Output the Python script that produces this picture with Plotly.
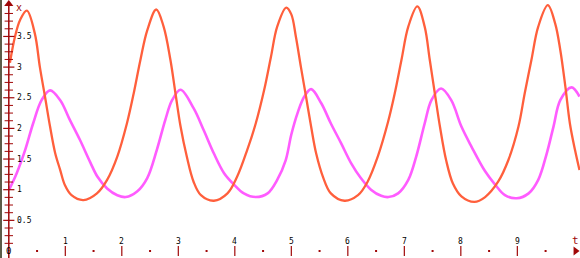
import plotly.graph_objects as go

# ---- data ----
prey_t = [0.02, 0.11, 0.20, 0.32, 0.46, 0.55, 0.64, 0.73, 0.82, 0.91, 0.99, 1.11, 1.32, 1.56, 1.74, 1.92,
          2.09, 2.21, 2.33, 2.45, 2.61, 2.74, 2.86, 2.95, 3.04, 3.15, 3.27, 3.40, 3.63, 3.87, 4.04, 4.22,
          4.37, 4.52, 4.64, 4.75, 4.91, 5.00, 5.08, 5.17, 5.26, 5.35, 5.44, 5.56, 5.70, 5.94, 6.18, 6.35,
          6.53, 6.71, 6.83, 6.95, 7.07, 7.23, 7.36, 7.45, 7.54, 7.63, 7.74, 7.86, 8.01, 8.24, 8.43, 8.66,
          8.84, 9.02, 9.13, 9.25, 9.37, 9.54, 9.67, 9.76, 9.85, 9.93, 10.02, 10.10]
prey_v = [3.07, 3.50, 3.77, 3.92, 3.55, 3.00, 2.52, 2.03, 1.60, 1.32, 1.08, 0.91, 0.83, 0.94, 1.16, 1.54,
          2.08, 2.57, 3.12, 3.60, 3.94, 3.66, 3.12, 2.57, 2.03, 1.54, 1.13, 0.91, 0.82, 0.94, 1.21, 1.65,
          2.08, 2.63, 3.17, 3.66, 3.97, 3.86, 3.50, 3.00, 2.52, 2.03, 1.59, 1.21, 0.94, 0.82, 0.91, 1.13,
          1.54, 2.10, 2.57, 3.12, 3.66, 3.99, 3.66, 3.12, 2.57, 2.03, 1.48, 1.10, 0.89, 0.80, 0.88, 1.13,
          1.48, 2.03, 2.57, 3.12, 3.66, 4.01, 3.71, 3.28, 2.68, 2.08, 1.65, 1.32]

pred_t = [0.01, 0.14, 0.29, 0.43, 0.58, 0.73, 0.91, 1.08, 1.26, 1.44, 1.57, 1.74, 1.92, 2.07, 2.27, 2.45,
          2.62, 2.77, 2.89, 3.04, 3.27, 3.45, 3.63, 3.81, 3.99, 4.16, 4.37, 4.58, 4.75, 4.90, 5.00, 5.11,
          5.23, 5.35, 5.53, 5.70, 5.88, 6.06, 6.23, 6.41, 6.59, 6.72, 6.89, 7.07, 7.21, 7.36, 7.48, 7.65,
          7.83, 8.01, 8.19, 8.43, 8.61, 8.78, 8.99, 9.20, 9.37, 9.52, 9.64, 9.76, 9.96, 10.10]
pred_v = [1.01, 1.27, 1.65, 2.08, 2.46, 2.62, 2.46, 2.14, 1.81, 1.45, 1.21, 1.02, 0.91, 0.88, 0.97, 1.19,
          1.65, 2.14, 2.46, 2.63, 2.33, 1.97, 1.59, 1.27, 1.08, 0.94, 0.88, 0.94, 1.16, 1.48, 1.90, 2.25,
          2.52, 2.64, 2.41, 2.08, 1.76, 1.43, 1.19, 1.00, 0.90, 0.88, 0.94, 1.16, 1.54, 2.08, 2.46, 2.65,
          2.46, 2.03, 1.70, 1.30, 1.08, 0.91, 0.86, 0.94, 1.16, 1.59, 2.03, 2.46, 2.67, 2.52]

x_major = [1, 2, 3, 4, 5, 6, 7, 8, 9]
x_labels = ["1", "2", "3", "4", "5", "6", "7", "8", "9"]
x_minor = [0.5, 1.5, 2.5, 3.5, 4.5, 5.5, 6.5, 7.5, 8.5, 9.5]
y_major = [0.5, 1, 1.5, 2, 2.5, 3, 3.5]
y_labels = ["0.5", "1", "1.5", "2", "2.5", "3", "3.5"]
y_minor = [i * 0.125 for i in range(1, 32) if (i * 0.125) % 0.5 != 0]

AX = "#a00808"
fig = go.Figure()

fig.add_trace(go.Scatter(x=pred_t, y=pred_v, mode="lines",
                         line=dict(color="#ff5cff", width=2.6, shape="spline", smoothing=1.0)))
fig.add_trace(go.Scatter(x=prey_t, y=prey_v, mode="lines",
                         line=dict(color="#ff5f3c", width=2.3, shape="spline", smoothing=1.0)))

# y axis ticks
fig.add_trace(go.Scatter(x=[0] * len(y_minor), y=y_minor, mode="markers",
                         marker=dict(symbol="line-ew", size=6, line=dict(color=AX, width=1))))
fig.add_trace(go.Scatter(x=[0] * len(y_major), y=y_major, mode="markers",
                         marker=dict(symbol="line-ew", size=8, line=dict(color=AX, width=1.2))))
# x axis ticks
fig.add_trace(go.Scatter(x=x_major, y=[0] * len(x_major), mode="markers",
                         marker=dict(symbol="line-ns", size=7, line=dict(color=AX, width=1.2))))
fig.add_trace(go.Scatter(x=x_minor, y=[0] * len(x_minor), mode="markers",
                         marker=dict(symbol="square", size=2, color=AX, line=dict(width=0))))

# axis line and arrows
fig.add_shape(type="line", x0=0, x1=0, y0=-0.12, y1=4.02, line=dict(color=AX, width=1.5))
fig.add_trace(go.Scatter(x=[0], y=[4.03], mode="markers",
                         marker=dict(symbol="triangle-up", size=8, color=AX)))
fig.add_trace(go.Scatter(x=[10.03], y=[0], mode="markers",
                         marker=dict(symbol="triangle-right", size=8, color=AX)))

font = dict(family="DejaVu Sans Mono", size=8, color="black")
for v, lab in zip(y_major, y_labels):
    fig.add_annotation(x=0, y=v, text=lab, showarrow=False, xanchor="left", xshift=6, font=font)
for t, lab in zip(x_major, x_labels):
    fig.add_annotation(x=t, y=0, text=lab, showarrow=False, yanchor="bottom", yshift=3, font=font)
fig.add_annotation(x=0, y=0, text="0", showarrow=False, font=dict(family="DejaVu Sans Mono", size=9, color="black"))
fig.add_annotation(x=0, y=3.97, text="x", showarrow=False, xanchor="left", xshift=5,
                   font=dict(family="DejaVu Sans Mono", size=10, color=AX))
fig.add_annotation(x=10.03, y=0, text="t", showarrow=False, yanchor="bottom", yshift=2,
                   font=dict(family="DejaVu Sans Mono", size=11, color=AX))

# left strip
fig.add_shape(type="rect", xref="paper", yref="paper", x0=0, x1=2 / 580, y0=0, y1=1,
              fillcolor="#5c5c48", line=dict(width=0), layer="above")

fig.update_layout(
    width=580, height=258, margin=dict(l=0, r=0, t=0, b=0),
    paper_bgcolor="white", plot_bgcolor="white", showlegend=False,
    xaxis=dict(range=[-0.1558, 10.109], visible=False, fixedrange=True),
    yaxis=dict(range=[-0.1142, 4.0946], visible=False, fixedrange=True),
)
fig.write_html("out.html", config={"displayModeBar": False})
